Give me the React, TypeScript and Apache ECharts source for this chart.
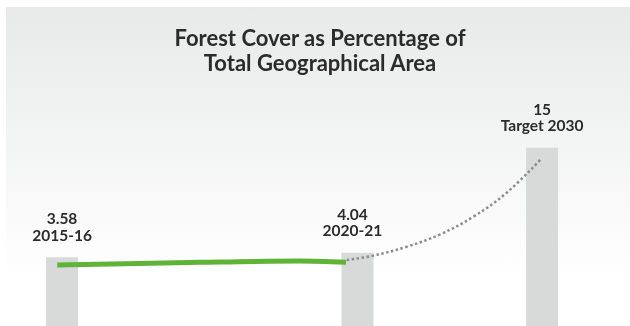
import React, { useEffect, useRef } from "react";
import * as echarts from "echarts";

// Data
const periods = ["2015-16", "2020-21", "Target 2030"];
const coverValues = [3.58, 4.04, 15];
const barSlots = [0, 8, 13];
const axisFloor = -3.6;

const actualX = [-0.13, 3.74, 6.45, 7.69];
const actualY = [3.65, 3.93, 4.07, 3.93];

// Dotted projection curve
const projX = [7.71, 8.42, 9.34, 10.24, 11.14, 12.04, 12.99];
const projY = [4.17, 4.62, 5.56, 6.85, 8.69, 11.19, 14.78];

const titleText = "Forest Cover as Percentage of\nTotal Geographical Area";

export default function App() {
  const ref = useRef<HTMLDivElement>(null);
  useEffect(() => {
    if (!ref.current) return;
    const chart = echarts.init(ref.current, null, { renderer: "svg" });
    const font = "Lato, 'Open Sans', sans-serif";
    const yMin = axisFloor;
    const yMax = 30.4;
    const lineShift = 0.887;
    const barColor = "#d8d9d9";
    chart.setOption({
      animation: false,
      graphic: [
        {
          type: "rect",
          z: -10,
          silent: true,
          shape: { x: 6, y: 7, width: 624, height: 319 },
          style: {
            fill: new echarts.graphic.LinearGradient(0, 0, 0, 1, [
              { offset: 0, color: "#e8e9e9" },
              { offset: 0.85, color: "#ffffff" },
              { offset: 1, color: "#ffffff" },
            ]),
          },
        },
        {
          type: "text",
          z: 10,
          silent: true,
          x: 320,
          y: 25,
          style: {
            text: titleText,
            textAlign: "center",
            textVerticalAlign: "top",
            fontFamily: font,
            fontWeight: "bold",
            fontSize: 22,
            lineHeight: 25,
            fill: "#2b2b2b",
          },
        },
      ],
      grid: { left: 0, right: 0, top: 0, bottom: 0 },
      xAxis: {
        type: "value",
        min: -1.68,
        max: 15.38,
        show: false,
      },
      yAxis: [
        { type: "value", min: yMin, max: yMax, startValue: axisFloor, show: false },
        { type: "value", min: yMin + lineShift, max: yMax + lineShift, show: false },
      ],
      series: [
        {
          type: "bar",
          barWidth: 32,
          itemStyle: { color: barColor },
          data: coverValues.map((v, i) => ({
            value: [barSlots[i], v],
            name: periods[i],
            label: i === 1 ? { offset: [-5, 0] } : undefined,
          })),
          label: {
            show: true,
            position: "top",
            distance: 14,
            fontFamily: font,
            fontWeight: "bold",
            fontSize: 15.5,
            lineHeight: 16.5,
            color: "#2b2b2b",
            formatter: (p: any) => `${p.value[1]}\n${p.name}`,
          },
        },
        {
          type: "line",
          yAxisIndex: 1,
          smooth: 0.3,
          symbol: "none",
          lineStyle: { color: "#5fb336", width: 5, cap: "butt" },
          data: actualX.map((x, i) => [x, actualY[i]]),
          z: 4,
        },
        {
          type: "line",
          yAxisIndex: 1,
          smooth: 0.4,
          symbol: "none",
          lineStyle: { color: "#8c8c8c", width: 2.5, type: [2.5, 2.5] },
          data: projX.map((x, i) => [x, projY[i]]),
          z: 3,
        },
      ],
    });
    return () => chart.dispose();
  }, []);
  return (
    <div
      ref={ref}
      style={{ position: "fixed", left: 0, top: 0, width: 630, height: 326 }}
    />
  );
}
